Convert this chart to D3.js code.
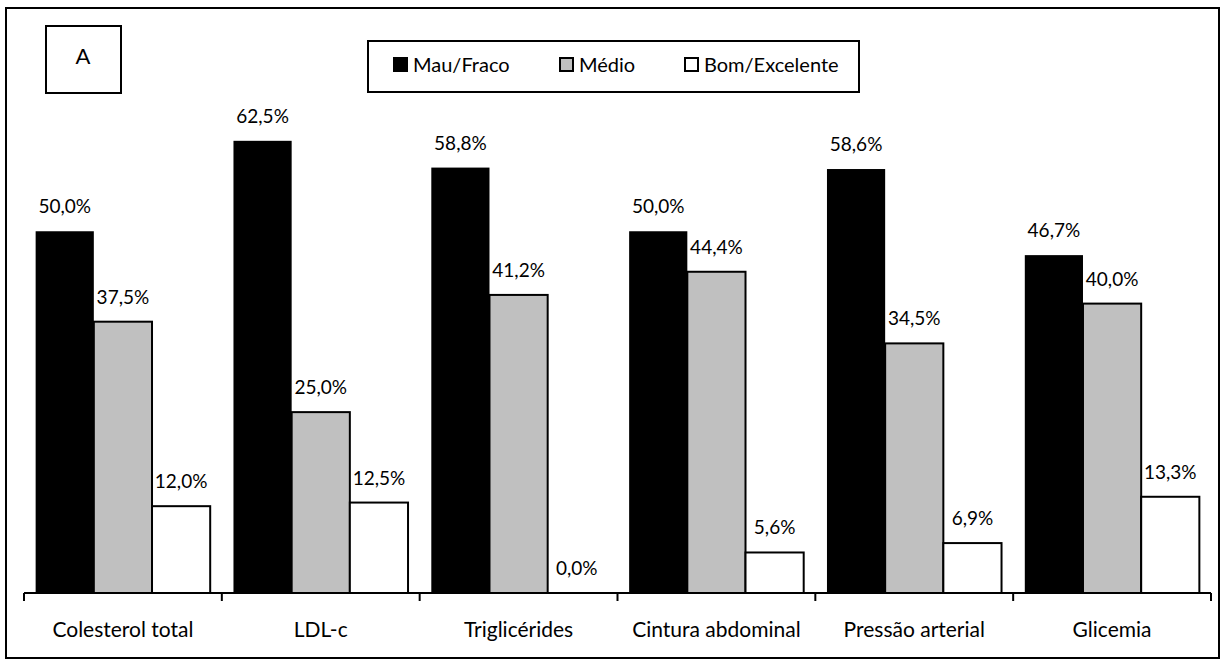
<!DOCTYPE html>
<html>
<head>
<meta charset="utf-8">
<script src="https://cdn.jsdelivr.net/npm/d3@7"></script>
<style>
  html, body { margin: 0; padding: 0; background: #fff; }
  svg { display: block; font-family: Lato, "Open Sans", sans-serif; }
</style>
</head>
<body>
<svg id="chart" width="1226" height="663"></svg>
<script>
// Indicators (categories) and percentage per classification
const categories = ["Colesterol total", "LDL-c", "Triglicérides", "Cintura abdominal", "Pressão arterial", "Glicemia"];
const seriesNames = ["Mau/Fraco", "Médio", "Bom/Excelente"];
const mauFraco = [50.0, 62.5, 58.8, 50.0, 58.6, 46.7];
const medio = [37.5, 25.0, 41.2, 44.4, 34.5, 40.0];
const bomExcelente = [12.0, 12.5, 0.0, 5.6, 6.9, 13.3];
const seriesColors = ["#000000", "#c0c0c0", "#ffffff"];

const seriesValues = [mauFraco, medio, bomExcelente];
const rows = categories.map((c, i) => ({
  category: c,
  values: seriesNames.map((s, j) => ({ key: s, value: seriesValues[j][i], idx: j }))
}));

const svg = d3.select("#chart");

// Outer frame
svg.append("rect")
  .attr("x", 6).attr("y", 8).attr("width", 1213).attr("height", 650)
  .attr("fill", "#fff").attr("stroke", "#000").attr("stroke-width", 2);

const baseline = 593;
const x0 = d3.scaleBand().domain(categories).range([24, 1211]).paddingInner(0).paddingOuter(0);
const x1 = d3.scaleBand().domain(seriesNames).range([0, x0.bandwidth()]).paddingOuter(0.2).paddingInner(0);
const y = d3.scaleLinear().domain([0, 70]).range([baseline, baseline - 70 * 7.235]);

const fmt = v => d3.format(".1f")(v).replace(".", ",") + "%";

const groups = svg.append("g").selectAll("g")
  .data(rows).join("g")
  .attr("transform", d => `translate(${x0(d.category)},0)`);

groups.selectAll("rect")
  .data(d => d.values).join("rect")
  .attr("x", d => x1(d.key))
  .attr("y", d => y(d.value))
  .attr("width", x1.bandwidth())
  .attr("height", d => baseline - y(d.value))
  .attr("fill", d => seriesColors[d.idx])
  .attr("stroke", d => d.idx === 0 ? "none" : "#000")
  .attr("stroke-width", 2);

groups.selectAll("text")
  .data(d => d.values).join("text")
  .attr("x", d => x1(d.key) + x1.bandwidth() / 2)
  .attr("y", d => y(d.value) - 18)
  .attr("text-anchor", "middle")
  .attr("font-size", 19)
  .attr("fill", "#000")
  .text(d => fmt(d.value));

// Category axis
const axisG = svg.append("g").attr("transform", `translate(0,${baseline})`);
axisG.append("line")
  .attr("x1", 24).attr("x2", 1211).attr("y1", 0).attr("y2", 0)
  .attr("stroke", "#000").attr("stroke-width", 2);
const boundaries = categories.map(c => x0(c)).concat([x0.range()[1]]);
axisG.selectAll("line.tick")
  .data(boundaries).join("line").attr("class", "tick")
  .attr("x1", d => d).attr("x2", d => d).attr("y1", 0).attr("y2", 8)
  .attr("stroke", "#000").attr("stroke-width", 2);
axisG.selectAll("text.cat")
  .data(categories).join("text").attr("class", "cat")
  .attr("x", d => x0(d) + x0.bandwidth() / 2)
  .attr("y", 44)
  .attr("text-anchor", "middle")
  .attr("font-size", 21)
  .attr("fill", "#000")
  .text(d => d);

// Panel label box
svg.append("rect")
  .attr("x", 46).attr("y", 26).attr("width", 75).attr("height", 67)
  .attr("fill", "#fff").attr("stroke", "#000").attr("stroke-width", 2);
svg.append("text")
  .attr("x", 83).attr("y", 64).attr("text-anchor", "middle")
  .attr("font-size", 22).text("A");

// Legend
const legend = svg.append("g");
legend.append("rect")
  .attr("x", 368).attr("y", 41).attr("width", 491).attr("height", 51)
  .attr("fill", "#fff").attr("stroke", "#000").attr("stroke-width", 2);
const legendX = [393, 559, 684];
seriesNames.forEach((s, i) => {
  legend.append("rect")
    .attr("x", legendX[i] + 1).attr("y", 58).attr("width", 13).attr("height", 13)
    .attr("fill", seriesColors[i]).attr("stroke", "#000").attr("stroke-width", 2);
  legend.append("text")
    .attr("x", legendX[i] + 20).attr("y", 72)
    .attr("font-size", 20).text(s);
});
</script>
</body>
</html>
